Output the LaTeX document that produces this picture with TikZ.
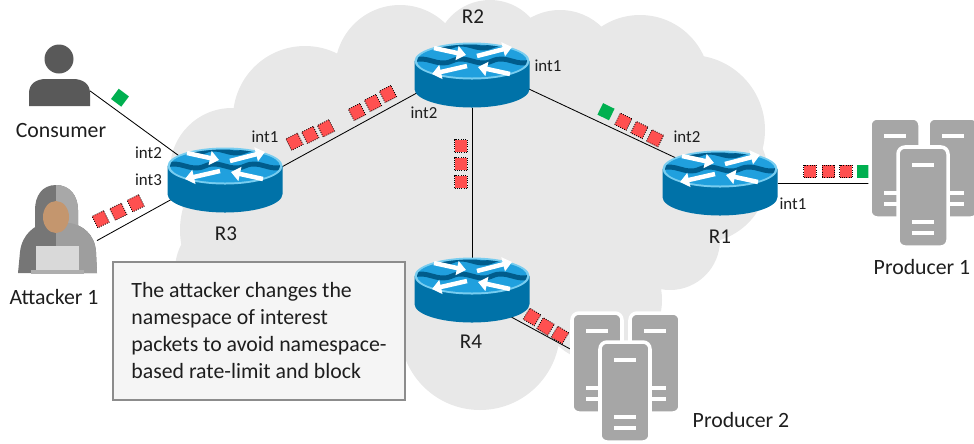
\documentclass[tikz,border=0pt]{standalone}
\usepackage{fontspec}
\setmainfont{Carlito}
\usetikzlibrary{arrows.meta,positioning,shapes.geometric}
\definecolor{cloudgray}{RGB}{232,232,232}
\definecolor{rtside}{RGB}{0,114,168}
\definecolor{rttop}{RGB}{32,160,222}
\definecolor{rtrim}{RGB}{120,205,240}
\definecolor{rtwave}{RGB}{0,92,140}
\definecolor{srvgray}{RGB}{166,166,166}
\definecolor{usergray}{RGB}{89,89,89}
\definecolor{hoodgray}{RGB}{118,118,118}
\definecolor{hoodlight}{RGB}{168,168,168}
\definecolor{skin}{RGB}{196,150,110}
\definecolor{laptop}{RGB}{217,217,217}
\definecolor{pktred}{RGB}{255,80,80}
\definecolor{pktgreen}{RGB}{0,176,80}
\definecolor{boxfill}{RGB}{245,245,245}
\definecolor{boxline}{RGB}{140,140,140}
\definecolor{txtgray}{RGB}{30,30,30}

\tikzset{
  % cylinder router, drawn around its centre
  pics/router/.style={code={
    \fill[rtside] (-57.5,-14) -- (-57.5,14)
      arc[start angle=180, end angle=0, x radius=57.5, y radius=18.5] -- (57.5,-14) -- cycle;
    \fill[rtrim] (0,-14) ellipse[x radius=57.5, y radius=18.5];
    \begin{scope}
      \clip (0,-14) ellipse[x radius=55, y radius=16.5];
      \fill[rttop] (-60,-35) rectangle (60,5);
      \draw[rtwave, line width=3.5pt] (-60,-29) .. controls (-45,-36) and (-35,-22) .. (-20,-29)
        .. controls (-5,-36) and (5,-22) .. (20,-29) .. controls (35,-36) and (45,-22) .. (60,-29);
      \draw[rtwave, line width=3.5pt] (-60,-14) .. controls (-45,-21) and (-35,-7) .. (-20,-14)
        .. controls (-5,-21) and (5,-7) .. (20,-14) .. controls (35,-21) and (45,-7) .. (60,-14);
    \end{scope}
    \draw[rtarrow] (-38,-27) -- (-6,-20);
    \draw[rtarrow] (5,-19) -- (40,-28);
    \draw[rtarrow] (-5,-9) -- (-40,-1);
    \draw[rtarrow] (38,-1) -- (6,-8);
  }},
  pics/server/.style={code={
    \filldraw[srv] (-25,-50) rectangle (25,50);
    \fill[white] (-11,-34) rectangle (11,-30);
    \fill[white] (-11,23) rectangle (11,27);
    \fill[white] (-11,34) rectangle (11,38);
  }},
  pics/rack/.style={code={
    \pic at (0,0) {server};
    \pic at (58,0) {server};
    \pic at (28,29) {server};
  }},
  rtarrow/.style={white, line width=3.2pt, -{Triangle[length=6.5pt, width=10pt]}},
  srv/.style={fill=srvgray, draw=white, line width=2.5pt, rounded corners=5pt},
  rtnode/.style={ellipse, minimum width=2.875cm, minimum height=1.625cm, inner sep=0, outer sep=0},
  hostnode/.style={rectangle, inner sep=0, outer sep=0},
  link/.style={draw=black, line width=0.6pt},
  pkt/.style={draw=black, densely dotted, line width=0.6pt, fill=pktred, minimum size=0.32cm, inner sep=0, outer sep=0},
  ack/.style={fill=pktgreen, minimum size=0.32cm, inner sep=0, outer sep=0},
  devname/.style={font=\fontsize{15}{18}\selectfont, text=txtgray, inner sep=0},
  ifname/.style={font=\fontsize{12}{14}\selectfont, text=txtgray, inner sep=0},
  hostname/.style={font=\fontsize{15.5}{18}\selectfont, text=txtgray, inner sep=0},
  notebox/.style={draw=boxline, fill=boxfill, line width=1pt, minimum width=7.3cm, minimum height=3.45cm,
    align=left, font=\fontsize{15.5}{19.2}\selectfont, text=txtgray}
}

\begin{document}
\begin{tikzpicture}[x=0.025cm, y=-0.025cm]
  \useasboundingbox (0,0) rectangle (974,443);
  \clip (0,0) rectangle (974,443);
  % Cloud behind the routers
  \fill[cloudgray] (305,118) circle (72) (400,70) circle (65) (490,55) circle (55) (560,70) circle (60)
    (640,85) circle (70) (690,130) circle (75) (700,175) circle (68) (670,240) circle (50)
    (600,300) circle (62) (480,330) circle (80) (260,230) circle (80) (232,170) circle (62)
    (430,200) circle (150) (590,190) circle (95) (560,250) circle (90) (350,300) circle (80)
    (230,270) circle (55);
  % Text box
  \node[notebox] (note) at (259,331) {The attacker changes the\\namespace of interest\\packets to avoid namespace-\\based rate-limit and block};
  % Devices (shapes only, drawn later)
  \node[rtnode] (R2) at (472,75) {};
  \node[rtnode] (R3) at (225,180) {};
  \node[rtnode] (R1) at (720,183) {};
  \node[rtnode] (R4) at (472,290) {};
  \node[hostnode, minimum width=1.525cm, minimum height=1.55cm] (Consumer) at (59.5,76) {};
  \node[hostnode, minimum width=1.975cm, minimum height=2.25cm] (Attacker) at (57.5,230) {};
  \node[hostnode, minimum width=2.8cm, minimum height=3.225cm] (P1) at (926,182.5) {};
  \node[hostnode, minimum width=2.7cm, minimum height=3.225cm] (P2) at (626,377.5) {};
  % Links
  \draw[link] (Consumer.-26) -- (R3.153);
  \draw[link] (Attacker.-15) -- (R3.199);
  \draw[link] (R3.12) -- (R2.197);
  \draw[link] (R2.-13) -- (R1.150);
  \draw[link] (R2.south) -- (R4.north);
  \draw[link] (R1.east) -- (R1.east -| P1.west);
  \draw[link] (R4.-35) -- (P2.153);
  % Interest packets (red) and data packets (green)
  \node[ack, rotate=-37] (cons-ack) at (120,97.7) {};
  \foreach \x/\y [count=\i] in {100.7/219.3, 118.3/211.7, 135.7/203.3}
    \node[pkt, rotate=26] (atk-pkt\i) at (\x,\y) {};
  \foreach \x/\y [count=\i] in {294.5/141.7, 310.3/135, 326/128.3, 357/112, 373/103, 388/94}
    \node[pkt, rotate=27] (r32-pkt\i) at (\x,\y) {};
  \foreach \y [count=\i] in {146, 164, 182}
    \node[pkt] (r24-pkt\i) at (461,\y) {};
  \node[ack, rotate=-26] (r21-ack) at (606,111.7) {};
  \foreach \x/\y [count=\i] in {623.3/121.7, 639.3/130, 655/138.3}
    \node[pkt, rotate=-26] (r21-pkt\i) at (\x,\y) {};
  \foreach \x [count=\i] in {810, 828.5, 846}
    \node[pkt] (p1-pkt\i) at (\x,171.5) {};
  \node[ack] (p1-ack) at (863.5,171.5) {};
  \foreach \x/\y [count=\i] in {532/317, 545.5/326.5, 560/335}
    \node[pkt, rotate=-31] (p2-pkt\i) at (\x,\y) {};
  % Routers
  \foreach \r in {R1,R2,R3,R4}
    \pic at (\r) {router};
  % Producers
  \pic at (895,168) {rack};
  \pic at (597,363) {rack};
  % Consumer
  \fill[usergray] (59,59) circle (14.5);
  \fill[usergray] (29,106) -- (29,93) .. controls (29,84) and (36,79) .. (46,79) -- (73,79)
    .. controls (83,79) and (90,84) .. (90,93) -- (90,106) -- cycle;
  % Attacker
  \fill[hoodgray] (18,273) -- (20,252) .. controls (22,234) and (35,225) .. (45,223) -- (70,223)
    .. controls (82,225) and (95,234) .. (96,252) -- (97,273) -- cycle;
  \fill[hoodgray] (56,185) .. controls (42,185) and (35,196) .. (35,210) -- (35,232) -- (78,232) -- (78,210)
    .. controls (78,196) and (70,185) .. (56,185) -- cycle;
  \begin{scope}
    \clip (56,180) rectangle (100,275);
    \fill[hoodlight] (56,185) .. controls (70,185) and (78,196) .. (78,210) -- (78,232) -- (56,232) -- cycle;
    \fill[hoodlight!80!hoodgray] (56,223) -- (70,223) .. controls (82,225) and (95,234) .. (96,252) -- (97,273) -- (56,273) -- cycle;
  \end{scope}
  \fill[skin] (56,217) ellipse[x radius=13, y radius=16];
  \fill[laptop] (36,246) rectangle (79,270);
  \fill[laptop!80!black] (31,270) rectangle (84,274);
  % Labels
  \node[devname] (R2-name) at (473,17) {R2};
  \node[devname] (R3-name) at (226,234) {R3};
  \node[devname] (R1-name) at (720,237) {R1};
  \node[devname] (R4-name) at (471,342) {R4};
  \node[ifname] (R2-if1) at (548,66) {int1};
  \node[ifname] (R2-if2) at (424,113) {int2};
  \node[ifname] (R3-if1) at (265,137) {int1};
  \node[ifname] (R3-if2) at (148.5,153) {int2};
  \node[ifname] (R3-if3) at (148.5,180) {int3};
  \node[ifname] (R1-if2) at (687,137) {int2};
  \node[ifname] (R1-if1) at (793,204) {int1};
  \node[hostname] (Consumer-name) at (61,131) {Consumer};
  \node[hostname] (Attacker-name) at (54,297) {Attacker 1};
  \node[hostname] (P1-name) at (922,267) {Producer 1};
  \node[hostname] (P2-name) at (741,420) {Producer 2};
\end{tikzpicture}
\end{document}
